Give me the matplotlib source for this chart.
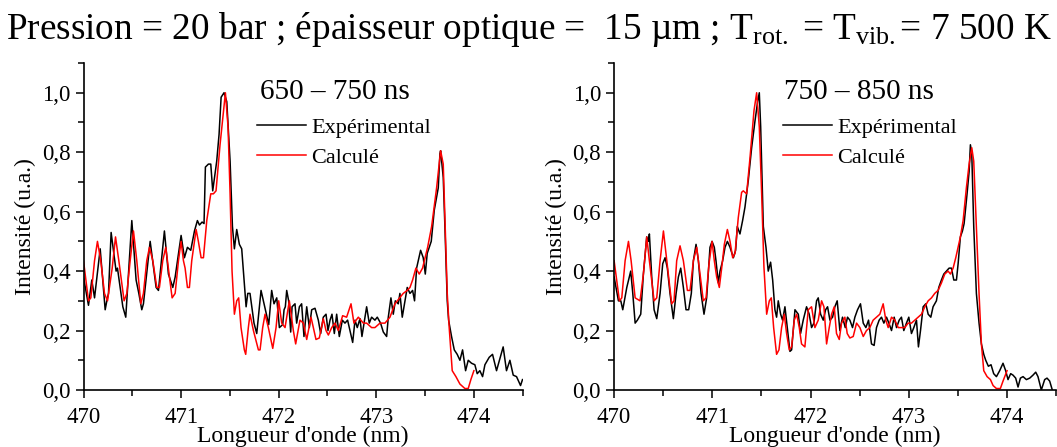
import matplotlib
matplotlib.use("Agg")
import matplotlib.pyplot as plt
from matplotlib.ticker import MultipleLocator, FuncFormatter
from matplotlib.lines import Line2D

plt.rcParams['font.family'] = ['Liberation Serif', 'DejaVu Serif']
plt.rcParams['mathtext.fontset'] = 'custom'
plt.rcParams['mathtext.rm'] = 'Liberation Serif'
plt.rcParams['mathtext.it'] = 'Liberation Serif:italic'

title_text = "Pression = 20 bar ; épaisseur optique =  15 µm ; T$_{\\mathrm{rot.}}$ = T$_{\\mathrm{vib.}}$= 7 500 K"
panel_labels = ["650 – 750 ns", "750 – 850 ns"]
legend_labels = ["Expérimental", "Calculé"]
xlabel = "Longueur d'onde (nm)"
ylabel = "Intensité (u.a.)"
xticks = [470, 471, 472, 473, 474]

# Panel 1 (650-750 ns): experimental (wavelength nm, intensity)
exp_650 = [(470.000,0.38),(470.051,0.285),(470.085,0.37),(470.113,0.31),(470.171,0.475),(470.222,0.27),(470.239,0.30),(470.256,0.325),(470.283,0.53),(470.334,0.40),(470.348,0.41),(470.403,0.28),(470.433,0.245),(470.495,0.57),(470.539,0.37),(470.567,0.325),(470.597,0.27),(470.614,0.29),(470.683,0.50),(470.744,0.345),(470.768,0.335),(470.829,0.535),(470.870,0.39),(470.915,0.345),(470.939,0.38),(471.000,0.52),(471.034,0.445),(471.065,0.48),(471.099,0.47),(471.137,0.535),(471.167,0.57),(471.188,0.555),(471.215,0.565),(471.235,0.56),(471.249,0.75),(471.280,0.76),(471.304,0.76),(471.324,0.67),(471.365,0.77),(471.389,0.86),(471.410,0.985),(471.440,1.0),(471.468,0.97),(471.502,0.77),(471.526,0.55),(471.546,0.475),(471.570,0.54),(471.597,0.49),(471.621,0.475),(471.666,0.28),(471.683,0.325),(471.706,0.325),(471.747,0.225),(471.775,0.19),(471.819,0.335),(471.843,0.30),(471.898,0.22),(471.928,0.335),(471.952,0.29),(471.980,0.31),(472.007,0.21),(472.041,0.22),(472.055,0.27),(472.068,0.28),(472.082,0.335),(472.102,0.30),(472.123,0.195),(472.137,0.28),(472.167,0.29),(472.184,0.225),(472.212,0.28),(472.235,0.29),(472.259,0.18),(472.287,0.28),(472.314,0.21),(472.338,0.27),(472.372,0.275),(472.406,0.235),(472.430,0.19),(472.457,0.245),(472.485,0.255),(472.505,0.20),(472.526,0.235),(472.546,0.255),(472.570,0.19),(472.594,0.255),(472.621,0.18),(472.652,0.235),(472.679,0.225),(472.706,0.235),(472.758,0.16),(472.782,0.235),(472.805,0.21),(472.833,0.24),(472.853,0.18),(472.884,0.245),(472.901,0.28),(472.928,0.225),(472.952,0.245),(472.986,0.235),(473.010,0.245),(473.044,0.225),(473.072,0.195),(473.106,0.18),(473.123,0.245),(473.150,0.31),(473.174,0.255),(473.195,0.30),(473.225,0.29),(473.242,0.325),(473.266,0.245),(473.294,0.30),(473.317,0.345),(473.345,0.325),(473.372,0.335),(473.392,0.30),(473.413,0.41),(473.454,0.47),(473.481,0.445),(473.502,0.39),(473.522,0.46),(473.543,0.48),(473.563,0.50),(473.594,0.605),(473.635,0.68),(473.652,0.795),(473.659,0.805),(473.686,0.715),(473.703,0.55),(473.727,0.30),(473.741,0.235),(473.771,0.18),(473.799,0.135),(473.829,0.12),(473.857,0.10),(473.884,0.135),(473.915,0.065),(473.942,0.10),(473.976,0.09),(474.010,0.085),(474.034,0.055),(474.061,0.065),(474.089,0.045),(474.113,0.085),(474.157,0.11),(474.191,0.12),(474.232,0.065),(474.300,0.145),(474.334,0.065),(474.369,0.10),(474.403,0.05),(474.437,0.045),(474.478,0.015),(474.498,0.035)]

# Panel 1 (650-750 ns): calculated
calc_650 = [(470.000,0.435),(470.051,0.30),(470.075,0.31),(470.113,0.435),(470.143,0.50),(470.177,0.435),(470.215,0.325),(470.246,0.30),(470.294,0.41),(470.328,0.515),(470.362,0.435),(470.416,0.30),(470.444,0.325),(470.478,0.435),(470.512,0.535),(470.546,0.435),(470.587,0.29),(470.614,0.325),(470.648,0.435),(470.676,0.48),(470.710,0.435),(470.751,0.345),(470.778,0.345),(470.812,0.435),(470.843,0.48),(470.877,0.39),(470.908,0.31),(470.939,0.325),(470.973,0.435),(471.000,0.50),(471.024,0.435),(471.041,0.41),(471.065,0.345),(471.085,0.345),(471.109,0.435),(471.154,0.54),(471.177,0.50),(471.205,0.445),(471.229,0.445),(471.263,0.57),(471.304,0.66),(471.331,0.66),(471.358,0.67),(471.399,0.825),(471.454,1.0),(471.481,0.885),(471.502,0.66),(471.522,0.40),(471.546,0.255),(471.570,0.30),(471.590,0.31),(471.614,0.21),(471.648,0.135),(471.662,0.12),(471.689,0.21),(471.706,0.255),(471.741,0.20),(471.792,0.135),(471.809,0.135),(471.836,0.21),(471.860,0.255),(471.894,0.21),(471.939,0.14),(471.973,0.21),(472.000,0.30),(472.031,0.225),(472.065,0.21),(472.109,0.30),(472.150,0.20),(472.174,0.155),(472.218,0.235),(472.253,0.225),(472.287,0.17),(472.331,0.245),(472.355,0.21),(472.382,0.17),(472.416,0.175),(472.457,0.24),(472.485,0.20),(472.509,0.185),(472.543,0.21),(472.577,0.225),(472.611,0.20),(472.655,0.25),(472.696,0.245),(472.741,0.29),(472.771,0.225),(472.816,0.245),(472.867,0.225),(472.901,0.225),(472.952,0.21),(472.986,0.21),(473.038,0.225),(473.089,0.225),(473.140,0.245),(473.191,0.29),(473.276,0.325),(473.317,0.335),(473.345,0.345),(473.372,0.37),(473.406,0.41),(473.440,0.39),(473.474,0.41),(473.526,0.48),(473.567,0.55),(473.618,0.68),(473.659,0.805),(473.686,0.76),(473.706,0.55),(473.727,0.325),(473.747,0.21),(473.778,0.065),(473.816,0.045),(473.857,0.02),(473.908,0.005),(473.942,0.005),(473.969,0.035),(474.000,0.065)]

# Panel 2 (750-850 ns): experimental
exp_750 = [(470.000,0.38),(470.044,0.30),(470.068,0.30),(470.088,0.27),(470.129,0.345),(470.169,0.40),(470.190,0.325),(470.214,0.225),(470.237,0.235),(470.271,0.255),(470.298,0.39),(470.332,0.515),(470.349,0.50),(470.359,0.525),(470.383,0.38),(470.407,0.27),(470.434,0.24),(470.468,0.325),(470.495,0.425),(470.519,0.445),(470.542,0.41),(470.569,0.325),(470.603,0.24),(470.631,0.325),(470.654,0.38),(470.678,0.41),(470.705,0.345),(470.732,0.27),(470.759,0.27),(470.786,0.325),(470.807,0.435),(470.834,0.49),(470.858,0.435),(470.885,0.325),(470.915,0.255),(470.942,0.31),(470.976,0.48),(470.997,0.50),(471.020,0.48),(471.037,0.435),(471.061,0.36),(471.078,0.40),(471.105,0.435),(471.129,0.48),(471.153,0.50),(471.180,0.48),(471.214,0.445),(471.237,0.47),(471.254,0.55),(471.281,0.525),(471.308,0.57),(471.332,0.615),(471.366,0.705),(471.400,0.815),(471.434,0.905),(471.461,0.97),(471.478,1.0),(471.492,0.885),(471.519,0.55),(471.546,0.48),(471.569,0.40),(471.593,0.43),(471.614,0.37),(471.637,0.27),(471.654,0.245),(471.671,0.30),(471.695,0.255),(471.715,0.235),(471.739,0.28),(471.763,0.21),(471.790,0.13),(471.807,0.135),(471.841,0.27),(471.875,0.255),(471.898,0.19),(471.925,0.235),(471.959,0.28),(471.986,0.255),(472.010,0.21),(472.034,0.225),(472.061,0.30),(472.078,0.31),(472.102,0.255),(472.129,0.235),(472.153,0.27),(472.173,0.28),(472.197,0.235),(472.224,0.245),(472.247,0.28),(472.271,0.30),(472.298,0.20),(472.325,0.245),(472.353,0.21),(472.376,0.245),(472.400,0.235),(472.427,0.21),(472.451,0.245),(472.478,0.27),(472.508,0.29),(472.536,0.225),(472.563,0.21),(472.590,0.235),(472.620,0.155),(472.647,0.15),(472.671,0.21),(472.698,0.235),(472.722,0.245),(472.746,0.225),(472.773,0.245),(472.797,0.225),(472.824,0.20),(472.851,0.245),(472.875,0.21),(472.902,0.235),(472.925,0.245),(472.949,0.20),(472.976,0.225),(473.000,0.245),(473.027,0.19),(473.051,0.21),(473.078,0.235),(473.098,0.145),(473.119,0.20),(473.146,0.28),(473.173,0.29),(473.197,0.255),(473.224,0.245),(473.247,0.28),(473.281,0.30),(473.305,0.345),(473.332,0.37),(473.356,0.39),(473.383,0.40),(473.410,0.41),(473.434,0.41),(473.458,0.37),(473.485,0.37),(473.502,0.425),(473.525,0.515),(473.546,0.535),(473.563,0.56),(473.593,0.66),(473.614,0.735),(473.627,0.825),(473.641,0.795),(473.661,0.55),(473.688,0.325),(473.715,0.225),(473.739,0.155),(473.763,0.12),(473.783,0.10),(473.810,0.08),(473.837,0.085),(473.864,0.055),(473.892,0.045),(473.925,0.065),(473.959,0.09),(473.986,0.065),(474.010,0.035),(474.037,0.055),(474.061,0.05),(474.088,0.04),(474.112,0.01),(474.136,0.04),(474.163,0.045),(474.197,0.035),(474.231,0.04),(474.264,0.05),(474.292,0.06),(474.315,0.045),(474.349,0.0),(474.383,0.035),(474.407,0.04),(474.434,0.03),(474.461,0.0)]

# Panel 2 (750-850 ns): calculated
calc_750 = [(470.000,0.435),(470.054,0.30),(470.078,0.31),(470.112,0.435),(470.146,0.50),(470.173,0.435),(470.214,0.31),(470.264,0.30),(470.298,0.39),(470.332,0.515),(470.359,0.435),(470.407,0.30),(470.434,0.31),(470.468,0.435),(470.502,0.535),(470.536,0.435),(470.586,0.29),(470.610,0.30),(470.637,0.435),(470.671,0.485),(470.705,0.435),(470.746,0.335),(470.773,0.335),(470.807,0.435),(470.841,0.48),(470.875,0.39),(470.908,0.30),(470.936,0.31),(470.966,0.425),(470.997,0.50),(471.020,0.435),(471.044,0.38),(471.071,0.345),(471.095,0.41),(471.122,0.49),(471.153,0.54),(471.180,0.50),(471.207,0.445),(471.231,0.46),(471.264,0.58),(471.298,0.665),(471.315,0.67),(471.349,0.66),(471.383,0.78),(471.424,0.94),(471.451,1.0),(471.478,0.885),(471.502,0.66),(471.525,0.415),(471.553,0.255),(471.580,0.30),(471.600,0.31),(471.624,0.21),(471.654,0.12),(471.678,0.135),(471.705,0.21),(471.732,0.255),(471.756,0.19),(471.783,0.135),(471.807,0.145),(471.834,0.235),(471.858,0.255),(471.885,0.21),(471.908,0.155),(471.942,0.145),(471.976,0.27),(472.010,0.28),(472.044,0.21),(472.078,0.235),(472.112,0.30),(472.136,0.28),(472.163,0.155),(472.190,0.21),(472.214,0.255),(472.241,0.28),(472.264,0.19),(472.292,0.17),(472.315,0.225),(472.349,0.245),(472.373,0.19),(472.400,0.175),(472.434,0.18),(472.468,0.225),(472.502,0.21),(472.536,0.18),(472.569,0.20),(472.603,0.21),(472.637,0.235),(472.671,0.245),(472.705,0.255),(472.739,0.29),(472.766,0.235),(472.790,0.21),(472.824,0.245),(472.858,0.235),(472.892,0.21),(472.925,0.21),(472.959,0.21),(472.993,0.225),(473.027,0.225),(473.061,0.235),(473.095,0.245),(473.129,0.255),(473.163,0.28),(473.197,0.30),(473.231,0.31),(473.264,0.325),(473.298,0.335),(473.332,0.36),(473.366,0.39),(473.400,0.40),(473.424,0.39),(473.451,0.41),(473.478,0.445),(473.502,0.48),(473.525,0.515),(473.553,0.57),(473.586,0.68),(473.614,0.76),(473.641,0.815),(473.661,0.77),(473.688,0.55),(473.715,0.325),(473.739,0.155),(473.763,0.065),(473.797,0.045),(473.831,0.035),(473.858,0.015),(473.892,0.005),(473.932,0.005),(473.959,0.03),(474.000,0.065)]

panels = [(exp_650, calc_650), (exp_750, calc_750)]

fig = plt.figure(figsize=(10.57, 4.47), dpi=100)
axes_rects = [(0.079, 0.1275, 0.4155, 0.7315), (0.581, 0.1275, 0.4182, 0.7315)]
panel_label_x = [471.81, 471.73]
legend_anchor_x = [0.395, 0.382]

fmt = FuncFormatter(lambda v, p: f"{v:.1f}".replace('.', ','))

for i, (exp, calc) in enumerate(panels):
    ax = fig.add_axes(axes_rects[i])
    ex, ey = zip(*exp)
    cx, cy = zip(*calc)
    ax.plot(ex, ey, color='black', lw=1.1)
    ax.plot(cx, cy, color='#ff0000', lw=1.1)
    ax.set_xlim(470, 474.5)
    ax.set_ylim(0, 1.1)
    ax.set_xticks(xticks)
    ax.xaxis.set_minor_locator(MultipleLocator(0.5))
    ax.yaxis.set_minor_locator(MultipleLocator(0.1))
    ax.set_yticks([0, 0.2, 0.4, 0.6, 0.8, 1.0])
    ax.yaxis.set_major_formatter(fmt)
    for s in ['top', 'right']:
        ax.spines[s].set_visible(False)
    for s in ['left', 'bottom']:
        ax.spines[s].set_linewidth(1.2)
    ax.tick_params(axis='both', which='major', direction='out', length=6, width=1.1, labelsize=16.5)
    ax.tick_params(axis='both', which='minor', direction='out', length=4, width=1.1)
    ax.tick_params(axis='x', which='major', pad=6)
    ax.set_xlabel(xlabel, fontsize=17, labelpad=-1)
    ax.set_ylabel(ylabel, fontsize=17, labelpad=4)
    ax.text(panel_label_x[i], 1.003, panel_labels[i], fontsize=21, va='center', ha='left')
    handles = [Line2D([], [], color='black', lw=1.1), Line2D([], [], color='#ff0000', lw=1.1)]
    ax.legend(handles, legend_labels, loc='upper left', bbox_to_anchor=(legend_anchor_x[i], 0.835),
              frameon=False, fontsize=16, handlelength=2.2, handletextpad=0.25,
              labelspacing=0.45, borderpad=0, borderaxespad=0)

fig.text(0.5, 0.912, title_text, fontsize=26.8, ha='center', va='baseline')

fig.savefig('out.png', dpi=100)
